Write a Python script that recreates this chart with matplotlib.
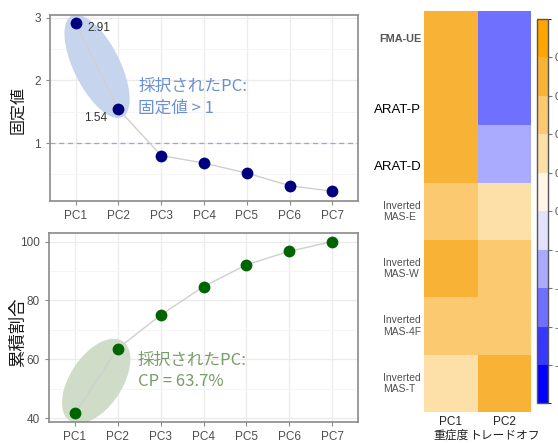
import numpy as np
import matplotlib
matplotlib.use("Agg")
import matplotlib.pyplot as plt
from matplotlib.colors import ListedColormap, BoundaryNorm
from matplotlib.patches import Polygon
import matplotlib.transforms as mtransforms

plt.rcParams['font.family'] = ['Liberation Sans', 'Noto Sans CJK JP', 'DejaVu Sans']

# --- data ---
pcs = ['PC1', 'PC2', 'PC3', 'PC4', 'PC5', 'PC6', 'PC7']
eigenvalues = [2.91, 1.54, 0.80, 0.68, 0.52, 0.32, 0.23]
cum_pct = [41.6, 63.6, 75.0, 84.7, 92.1, 96.7, 100.0]

measures = ['FMA-UE', 'ARAT-P', 'ARAT-D', 'Inverted\nMAS-E', 'Inverted\nMAS-W',
            'Inverted\nMAS-4F', 'Inverted\nMAS-T']
pc1_loadings = [0.72, 0.70, 0.70, 0.52, 0.66, 0.50, 0.34]
pc2_loadings = [-0.52, -0.50, -0.30, 0.32, 0.46, 0.46, 0.66]
heat_cols = ['PC1\n重症度', 'PC2\nトレードオフ']
cbar_bounds = [-1.0, -0.8, -0.6, -0.4, -0.2, 0.0, 0.2, 0.4, 0.6, 0.8, 1.0]
cbar_ticks = [-0.8, -0.6, -0.4, -0.2, 0.0, 0.2, 0.4, 0.6, 0.8]
palette = ['#0000FF', '#3737FF', '#7070FF', '#AAAAFF', '#E2E2FF',
           '#FFF6E6', '#FDE0A8', '#FBC970', '#F8B236', '#FFA500']

GRID = '#ebebeb'
SPINE = '#8a8a8a'
TICKC = '#4d4d4d'


def style_axes(ax):
    for s in ax.spines.values():
        s.set_color(SPINE)
        s.set_linewidth(1.2)
    ax.tick_params(axis='both', colors=SPINE, labelcolor=TICKC, labelsize=8.5,
                   length=3, width=0.8)
    ax.set_axisbelow(True)


def add_ellipse(ax, x0, y0, x1, y1, major_scale, minor_px, color):
    """Ellipse around two points, sized in pixels along the joining line."""
    p0 = ax.transData.transform((x0, y0))
    p1 = ax.transData.transform((x1, y1))
    c = (p0 + p1) / 2
    d = p1 - p0
    L = np.hypot(*d)
    ang = np.arctan2(d[1], d[0])
    t = np.linspace(0, 2 * np.pi, 200)
    a, b = L * major_scale / 2, minor_px / 2
    xs = c[0] + a * np.cos(t) * np.cos(ang) - b * np.sin(t) * np.sin(ang)
    ys = c[1] + a * np.cos(t) * np.sin(ang) + b * np.sin(t) * np.cos(ang)
    pts = ax.transData.inverted().transform(np.column_stack([xs, ys]))
    ax.add_patch(Polygon(pts, closed=True, fc=color, ec='none', zorder=1))


fig = plt.figure(figsize=(5.58, 4.43), dpi=100)
x = np.arange(1, len(pcs) + 1)

# --- scree plot ---
ax1 = fig.add_axes([0.0896, 0.5463, 0.552, 0.4199])
style_axes(ax1)
ax1.set_xlim(0.4, 7.6)
ax1.set_ylim(0.075, 3.045)
ax1.set_xticks(x, pcs)
ax1.set_yticks([1, 2, 3])
ax1.set_yticks([0.5, 1.5, 2.5], minor=True)
ax1.tick_params(axis='y', which='minor', length=0)
ax1.grid(True, which='major', color=GRID, lw=0.9)
ax1.grid(True, which='minor', axis='y', color='#f4f4f4', lw=0.6)
add_ellipse(ax1, x[0], eigenvalues[0], x[1], eigenvalues[1], 1.18, 46, '#c7d4ee')
ax1.axhline(1, color='#8eaae0', ls=(0, (4, 3)), lw=0.9, zorder=2)
ax1.plot(x, eigenvalues, color='#cfcfcf', lw=1, zorder=3)
ax1.plot(x, eigenvalues, 'o', color='#00007f', ms=8.5, mec='none', zorder=4)
ax1.annotate(f'{eigenvalues[0]:.2f}', (x[0], eigenvalues[0]), xytext=(8.6, -3.6),
             textcoords='offset points', ha='left', va='center', fontsize=8.5,
             color='#333333')
ax1.annotate(f'{eigenvalues[1]:.2f}', (x[1], eigenvalues[1]), xytext=(-7.9, -6.5),
             textcoords='offset points', ha='right', va='center', fontsize=8.5,
             color='#333333')
ax1.text(0.286, 0.556, '採択されたPC:\n固定値 > 1', transform=ax1.transAxes,
         ha='left', va='center', fontsize=12, color='#6a8fd3', linespacing=1.35,
         family=['Noto Sans CJK JP', 'DejaVu Sans'])

# --- cumulative proportion ---
ax2 = fig.add_axes([0.0878, 0.0474, 0.5538, 0.4266])
style_axes(ax2)
ax2.set_xlim(0.4, 7.6)
ax2.set_ylim(38.7, 102.9)
ax2.set_xticks(x, pcs)
ax2.set_yticks([40, 60, 80, 100])
ax2.set_yticks([50, 70, 90], minor=True)
ax2.tick_params(axis='y', which='minor', length=0)
ax2.grid(True, which='major', color=GRID, lw=0.9)
ax2.grid(True, which='minor', axis='y', color='#f4f4f4', lw=0.6)
add_ellipse(ax2, x[0], cum_pct[0], x[1], cum_pct[1], 1.23, 52, '#cfdcc8')
ax2.plot(x, cum_pct, color='#cfcfcf', lw=1, zorder=3)
ax2.plot(x, cum_pct, 'o', color='#006400', ms=8.5, mec='none', zorder=4)
ax2.text(0.288, 0.271, '採択されたPC:\nCP = 63.7%', transform=ax2.transAxes,
         ha='left', va='center', fontsize=12, color='#7a9b6a', linespacing=1.35,
         family=['Noto Sans CJK JP', 'DejaVu Sans'])

fig.text(18 / 558, 1 - 110 / 443, '固定値', rotation=90, ha='center', va='center',
         fontsize=11.5, family=['Noto Sans CJK JP'], color='#1a1a1a')
fig.text(18 / 558, 1 - 332 / 443, '累積割合', rotation=90, ha='center', va='center',
         fontsize=12.5, family=['Noto Sans CJK JP'], color='#1a1a1a')

# --- loadings heatmap ---
ax3 = fig.add_axes([0.7599, 0.070, 0.1918, 0.9059])
cmap = ListedColormap(palette)
norm = BoundaryNorm(cbar_bounds, cmap.N)
loadings = np.column_stack([pc1_loadings, pc2_loadings])
mesh = ax3.pcolormesh(np.arange(3), np.arange(len(measures) + 1), loadings,
                      cmap=cmap, norm=norm)
ax3.set_ylim(len(measures), 0)
ax3.set_xlim(0, 2)
for s in ax3.spines.values():
    s.set_visible(False)
ax3.set_yticks([])
ax3.set_xticks([0.5, 1.5], heat_cols)
ax3.tick_params(axis='x', length=0, pad=3, labelsize=8.5, labelcolor='#222222')

lab_tr = mtransforms.blended_transform_factory(ax3.transAxes, ax3.transData)
for i, m in enumerate(measures):
    if m.startswith('ARAT'):
        ax3.text(-0.025, i + 0.73, m, transform=lab_tr, ha='right', va='center',
                 fontsize=9.5, color='black')
    elif m == 'FMA-UE':
        ax3.text(-0.025, i + 0.5, m, transform=lab_tr, ha='right', va='center',
                 fontsize=7.8, color='#555555', fontweight='bold')
    else:
        ax3.text(-0.03, i + 0.5, m, transform=lab_tr, ha='right', va='center',
                 multialignment='left', fontsize=7.5, color='#505050',
                 linespacing=1.2)

cax = fig.add_axes([0.9624, 0.0892, 0.0197, 0.868])
cb = fig.colorbar(mesh, cax=cax, ticks=cbar_ticks)
cb.outline.set_edgecolor('#555555')
cb.outline.set_linewidth(1)
cb.ax.tick_params(length=3, width=0.8, colors='#777777', labelsize=8,
                  labelcolor='#555555', pad=2)
cb.ax.set_yticklabels([f'{t:g}' for t in cbar_ticks])

fig.savefig('out.png', dpi=100)
